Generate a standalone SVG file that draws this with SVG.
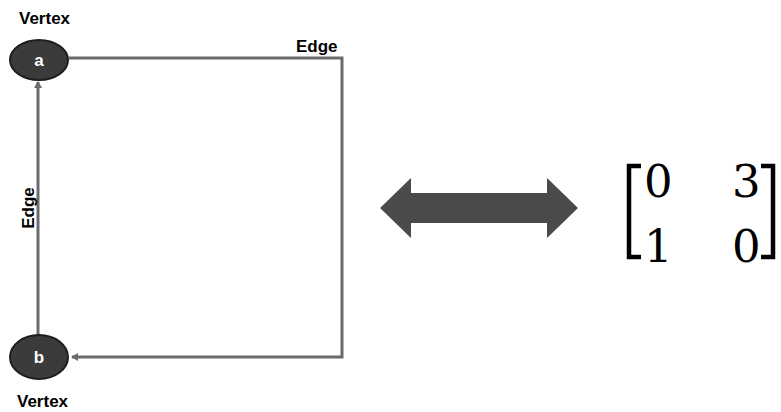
<svg xmlns="http://www.w3.org/2000/svg" width="781" height="412" viewBox="0 0 781 412">
<style>
.lbl{font-family:"Liberation Sans",Arial,sans-serif;font-weight:bold;font-size:17px;fill:#000}
.nl{font-family:"Liberation Sans",Arial,sans-serif;font-weight:bold;font-size:17px;fill:#fff;text-anchor:middle}
.node{fill:#3b3b3b;stroke:#1e1e1e;stroke-width:2}
.edge{fill:none;stroke:#6b6b6b;stroke-width:3}
.num{font-family:"DejaVu Serif","Liberation Serif",serif;font-size:45px;fill:#000}
</style>
<defs>
<marker id="ah" markerWidth="8" markerHeight="8" refX="6" refY="4" orient="auto" markerUnits="userSpaceOnUse">
<path d="M0,0 L7,4 L0,8 Z" fill="#6b6b6b"/>
</marker>
</defs>
<rect width="781" height="412" fill="#fff"/>
<g id="connectors">
<path class="edge" d="M69,58 H342 V357 H72" marker-end="url(#ah)"/>
<path class="edge" d="M38,335 V82" marker-end="url(#ah)"/>
</g>
<g id="node-a">
<ellipse class="node" cx="39" cy="60" rx="29" ry="20"/>
<text class="nl" x="39" y="66">a</text>
<text class="lbl" x="19" y="24">Vertex</text>
</g>
<g id="node-b">
<ellipse class="node" cx="39" cy="357" rx="29" ry="22"/>
<text class="nl" x="39" y="363">b</text>
<text class="lbl" x="17" y="407">Vertex</text>
</g>
<g id="edge-labels">
<text class="lbl" x="296" y="52">Edge</text>
<text class="lbl" transform="translate(34,208) rotate(-90)" text-anchor="middle">Edge</text>
</g>
<g id="double-arrow">
<path d="M380,208 L411,178 V193 H547 V178 L578,208 L547,238 V223 H411 V238 Z" fill="#4a4a4a"/>
</g>
<g id="matrix">
<path d="M641,166 H629 V257 H641" fill="none" stroke="#000" stroke-width="4.5"/>
<path d="M761,166 H773 V257 H761" fill="none" stroke="#000" stroke-width="4.5"/>
<text class="num" x="644" y="197">0</text>
<text class="num" x="732" y="197">3</text>
<text class="num" x="644" y="262">1</text>
<text class="num" x="732" y="262">0</text>
</g>
</svg>
